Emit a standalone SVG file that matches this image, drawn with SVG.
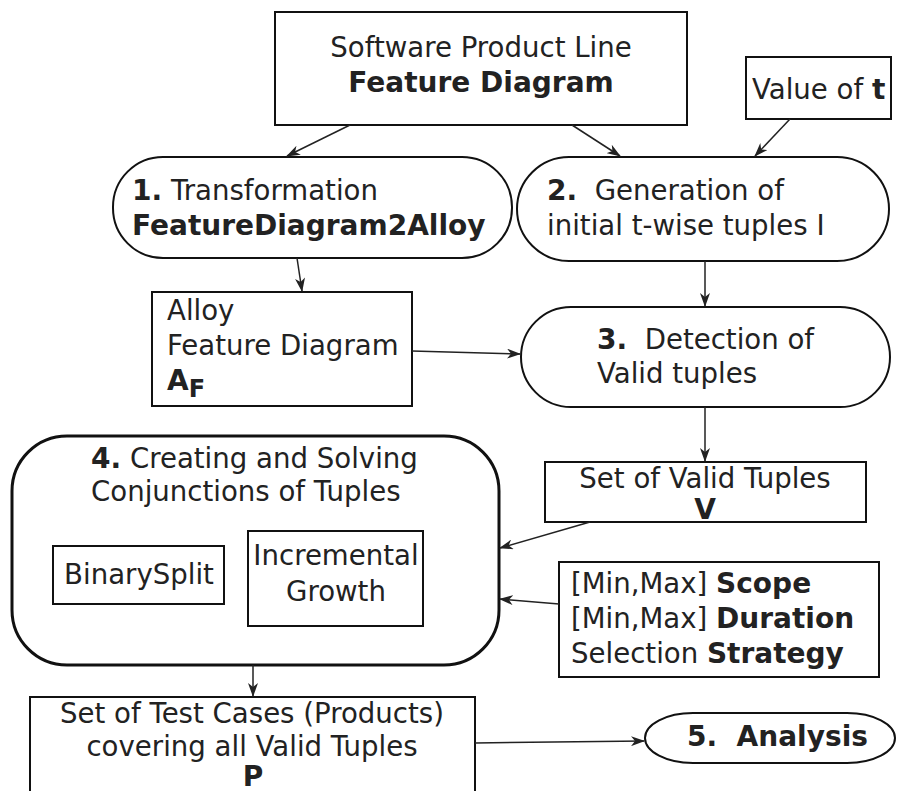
<svg xmlns="http://www.w3.org/2000/svg" width="901" height="791" viewBox="0 0 901 791">
<style>
text{font-family:"DejaVu Sans",Verdana,sans-serif;font-size:27.6px;fill:#222;white-space:pre}
.b{font-weight:bold;font-size:28px}
.box{fill:#fff;stroke:#111;stroke-width:2}
.thick{fill:#fff;stroke:#111;stroke-width:3}
.c{text-anchor:middle}
.edge{stroke:#222;stroke-width:1.5;fill:none;marker-end:url(#ah)}
</style>
<defs>
<marker id="ah" viewBox="0 0 14 10" refX="13" refY="5" markerWidth="14" markerHeight="10" markerUnits="userSpaceOnUse" orient="auto">
<path d="M0,0 L14,5 L0,10 L4,5 z" fill="#222"/>
</marker>
</defs>
<g id="spl">
<rect class="box" x="275" y="12" width="412" height="113"/>
<text class="c" x="481" y="57">Software Product Line</text>
<text class="c b" x="481" y="92">Feature Diagram</text>
</g>
<g id="valt">
<rect class="box" x="746" y="57" width="145" height="62"/>
<text x="752" y="99">Value of <tspan class="b">t</tspan></text>
</g>
<g id="n1">
<rect class="box" x="113" y="157" width="399" height="101" rx="50" ry="50"/>
<text x="132" y="200"><tspan class="b">1.</tspan> Transformation</text>
<text class="b" x="132" y="235">FeatureDiagram2Alloy</text>
</g>
<g id="n2">
<rect class="box" x="517" y="157" width="372" height="104" rx="52" ry="52"/>
<text x="547" y="200"><tspan class="b">2.</tspan>  Generation of</text>
<text x="547" y="235">initial t-wise tuples I</text>
</g>
<g id="alloy">
<rect class="box" x="152" y="292" width="260" height="114"/>
<text x="167" y="320">Alloy</text>
<text x="167" y="355">Feature Diagram</text>
<text class="b" x="167" y="390">A<tspan font-size="24" dy="7">F</tspan></text>
</g>
<g id="n3">
<rect class="box" x="521" y="307" width="369" height="100" rx="50" ry="50"/>
<text x="597" y="349"><tspan class="b">3.</tspan>  Detection of</text>
<text x="597" y="383">Valid tuples</text>
</g>
<g id="n4">
<rect class="thick" x="12" y="436" width="487" height="229" rx="55" ry="55"/>
<text x="91" y="468"><tspan class="b">4.</tspan> Creating and Solving</text>
<text x="91" y="501">Conjunctions of Tuples</text>
</g>
<g id="binsplit">
<rect class="box" x="53" y="546" width="171" height="58"/>
<text class="c" x="139" y="584">BinarySplit</text>
</g>
<g id="incgrowth">
<rect class="box" x="248" y="531" width="175" height="95"/>
<text class="c" x="336" y="565">Incremental</text>
<text class="c" x="336" y="601">Growth</text>
</g>
<g id="validset">
<rect class="box" x="545" y="462" width="321" height="60"/>
<text class="c" x="705" y="488">Set of Valid Tuples</text>
<text class="c b" x="705" y="519">V</text>
</g>
<g id="params">
<rect class="box" x="559" y="562" width="320" height="115"/>
<text x="571" y="593">[Min,Max] <tspan class="b">Scope</tspan></text>
<text x="571" y="628">[Min,Max] <tspan class="b">Duration</tspan></text>
<text x="571" y="663">Selection <tspan class="b">Strategy</tspan></text>
</g>
<g id="testcases">
<rect class="box" x="30" y="697" width="445" height="110"/>
<text class="c" x="252" y="723">Set of Test Cases (Products)</text>
<text class="c" x="252" y="756">covering all Valid Tuples</text>
<text class="c b" x="253" y="786">P</text>
</g>
<g id="n5">
<rect class="box" x="645" y="713" width="250" height="50" rx="48" ry="25"/>
<text class="b" x="687" y="746">5.  Analysis</text>
</g>
<g id="connectors">
<line class="edge" x1="350" y1="125" x2="287" y2="156"/>
<line class="edge" x1="572" y1="125" x2="620" y2="156"/>
<line class="edge" x1="790" y1="119" x2="755" y2="156"/>
<line class="edge" x1="297" y1="258" x2="302" y2="291"/>
<line class="edge" x1="705" y1="261" x2="705" y2="306"/>
<line class="edge" x1="412" y1="351" x2="520" y2="354"/>
<line class="edge" x1="705" y1="407" x2="705" y2="461"/>
<line class="edge" x1="590" y1="522" x2="500" y2="548"/>
<line class="edge" x1="559" y1="604" x2="500" y2="599"/>
<line class="edge" x1="253" y1="665" x2="253" y2="696"/>
<line class="edge" x1="475" y1="743" x2="644" y2="741"/>
</g>
</svg>
